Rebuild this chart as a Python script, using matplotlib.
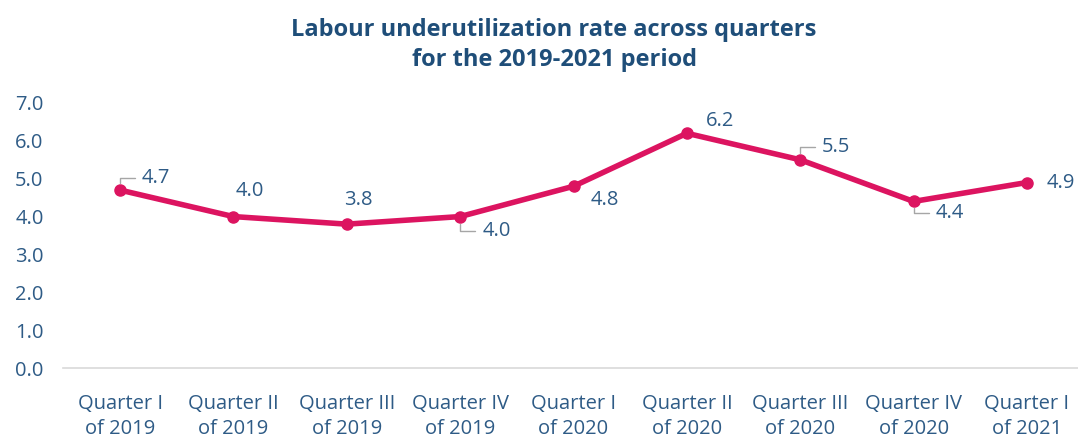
import matplotlib.pyplot as plt

plt.rcParams['font.family'] = ['Open Sans', 'DejaVu Sans']

quarters = ["Quarter I\nof 2019", "Quarter II\nof 2019", "Quarter III\nof 2019", "Quarter IV\nof 2019",
            "Quarter I\nof 2020", "Quarter II\nof 2020", "Quarter III\nof 2020", "Quarter IV\nof 2020",
            "Quarter I\nof 2021"]
rate = [4.7, 4.0, 3.8, 4.0, 4.8, 6.2, 5.5, 4.4, 4.9]
y_ticks = [0, 1, 2, 3, 4, 5, 6, 7]

# label placement (pixels from the point) and whether a leader line is drawn
label_off = [(22, 12), (2, 26), (-3, 24), (22, -14), (17, -14), (19, 12), (22, 13), (22, -12), (20, 0)]
leader = [True, False, False, True, False, False, True, True, False]

line_col = '#dc1460'
txt_col = '#2e5b86'
title_col = '#1f4e79'
fs = 14.5

fig = plt.figure(figsize=(10.78, 4.37), dpi=100)
ax = fig.add_axes([63 / 1078, 69 / 437, 1 - 63 / 1078, 265 / 437])

x = list(range(len(rate)))
ax.plot(x, rate, color=line_col, lw=4, marker='o', ms=8, solid_capstyle='round')

for i, v in enumerate(rate):
    dx, dy = label_off[i]
    if leader[i]:
        ax.annotate(f"{v:.1f}", xy=(i, v), xytext=(dx, dy), textcoords='offset pixels',
                    ha='left', va='center', fontsize=fs, color=txt_col,
                    arrowprops=dict(arrowstyle='-', color='#a6a6a6', lw=1,
                                    connectionstyle='angle,angleA=0,angleB=90,rad=0',
                                    shrinkA=3, shrinkB=5))
    else:
        ax.annotate(f"{v:.1f}", xy=(i, v), xytext=(dx, dy), textcoords='offset pixels',
                    ha='left', va='center', fontsize=fs, color=txt_col)

ax.set_xlim(-0.503, 8.45)
ax.set_ylim(0, 7)
ax.set_yticks(y_ticks)
ax.set_yticklabels([f"{t:.1f}" for t in y_ticks])
ax.set_xticks(x)
ax.set_xticklabels(quarters, linespacing=1.3)
ax.tick_params(axis='both', length=0, labelsize=fs, labelcolor=txt_col)
ax.tick_params(axis='y', pad=14)
ax.tick_params(axis='x', pad=19)
for s in ['top', 'right', 'left']:
    ax.spines[s].set_visible(False)
ax.spines['bottom'].set_color('#d9d9d9')
ax.spines['bottom'].set_linewidth(1.2)

fig.text(0.514, 0.897, "Labour underutilization rate across quarters\nfor the 2019-2021 period",
         ha='center', va='center', fontsize=17, fontweight='bold', color=title_col, linespacing=1.35)

fig.savefig('out.png', dpi=100)
